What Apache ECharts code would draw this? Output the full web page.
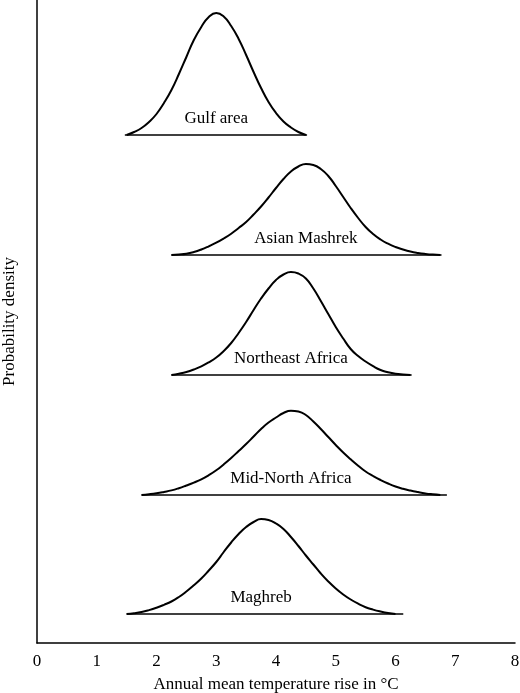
<!DOCTYPE html>
<html>
<head>
<meta charset="utf-8">
<script src="https://cdn.jsdelivr.net/npm/echarts@6/dist/echarts.min.js"></script>
<style>
  html, body { margin: 0; padding: 0; background: #fff; }
  #chart { width: 520px; height: 693px; }
</style>
</head>
<body>
<div id="chart"></div>
<script>
// x tick labels
var xTicks = [0, 1, 2, 3, 4, 5, 6, 7, 8];

// region names, top to bottom
var regions = ['Gulf area', 'Asian Mashrek', 'Northeast Africa', 'Mid-North Africa', 'Maghreb'];

// vertical offset of each curve's base line (plot units)
var baseLevel = [508, 388, 268, 148, 29];
// extent of each base line along x
var baseStart = [1.47, 2.25, 2.25, 1.75, 1.50];
var baseEnd   = [4.52, 6.77, 6.27, 6.86, 6.13];

// curve samples (every 0.125 degC): height above the base line
var gulfX = [1.5, 1.625, 1.75, 1.875, 2.0, 2.125, 2.25, 2.375, 2.5, 2.625, 2.75, 2.875, 3.0,
             3.125, 3.25, 3.375, 3.5, 3.625, 3.75, 3.875, 4.0, 4.125, 4.25, 4.375, 4.5];
var gulfY = [0, 3, 7, 13, 21, 32, 45, 61, 78, 95, 108, 118, 122,
             118.5, 109, 96, 80, 63, 47, 33, 22, 13.5, 7.5, 3, 0];

var mashrekX = [2.25, 2.375, 2.5, 2.625, 2.75, 2.875, 3.0, 3.125, 3.25, 3.375, 3.5, 3.625, 3.75,
                3.875, 4.0, 4.125, 4.25, 4.375, 4.5, 4.625, 4.75, 4.875, 5.0, 5.125, 5.25,
                5.375, 5.5, 5.625, 5.75, 5.875, 6.0, 6.125, 6.25, 6.375, 6.5, 6.625, 6.75];
var mashrekY = [0, 0.5, 1.3, 3, 5.5, 8.7, 12.3, 16.5, 21.3, 27, 33, 40.5, 48.5,
                57.5, 67, 76, 83.5, 88.5, 91, 90, 86, 79, 69, 58, 47,
                37, 28, 21, 15.5, 11.3, 8, 5.5, 3.5, 2.1, 1.1, 0.4, 0];

var neAfricaX = [2.25, 2.375, 2.5, 2.625, 2.75, 2.875, 3.0, 3.125, 3.25, 3.375, 3.5, 3.625, 3.75,
                 3.875, 4.0, 4.125, 4.25, 4.375, 4.5, 4.625, 4.75, 4.875, 5.0, 5.125, 5.25,
                 5.375, 5.5, 5.625, 5.75, 5.875, 6.0, 6.125, 6.25];
var neAfricaY = [0, 1.3, 3, 5.5, 8.7, 12.7, 17.5, 24, 32, 42, 53, 65, 76.5,
                 86.5, 95, 100.5, 103, 101.5, 96.5, 86.5, 74, 61, 48, 36.5, 26,
                 19, 13.5, 8.8, 5, 2.8, 1.3, 0.5, 0];

var midNorthX = [1.75, 1.875, 2.0, 2.125, 2.25, 2.375, 2.5, 2.625, 2.75, 2.875, 3.0, 3.125, 3.25,
                 3.375, 3.5, 3.625, 3.75, 3.875, 4.0, 4.125, 4.25, 4.375, 4.5, 4.625, 4.75,
                 4.875, 5.0, 5.125, 5.25, 5.375, 5.5, 5.625, 5.75, 5.875, 6.0, 6.125, 6.25,
                 6.375, 6.5, 6.625, 6.75];
var midNorthY = [0, 0.8, 1.8, 3.1, 4.6, 6.8, 9.5, 12.4, 15.7, 19.8, 24.7, 30.6, 37,
                 44, 51, 58.5, 66, 72.5, 77.5, 82, 84.3, 83.5, 80, 73.5, 66,
                 58, 50, 42.5, 35.7, 29.3, 23.5, 19, 15, 11.5, 8.5, 6.2, 4.4,
                 2.9, 1.6, 0.7, 0];

var maghrebX = [1.5, 1.625, 1.75, 1.875, 2.0, 2.125, 2.25, 2.375, 2.5, 2.625, 2.75, 2.875, 3.0,
                3.125, 3.25, 3.375, 3.5, 3.625, 3.75, 3.875, 4.0, 4.125, 4.25, 4.375, 4.5,
                4.625, 4.75, 4.875, 5.0, 5.125, 5.25, 5.375, 5.5, 5.625, 5.75, 5.875, 6.0];
var maghrebY = [0, 0.8, 2, 3.9, 6.3, 9.2, 12.5, 17, 22.5, 28.7, 35.5, 43.5, 52,
                62, 71.5, 80, 87, 92, 95, 94, 90.5, 85, 77, 68, 58.5,
                49.5, 40.5, 32.5, 25.5, 19.5, 14.5, 10.3, 6.8, 4.4, 2.5, 1, 0];

// where each region's name sits along x
var labelX = [3.0, 4.5, 4.25, 4.25, 3.75];

var curveX = [gulfX, mashrekX, neAfricaX, midNorthX, maghrebX];
var curveY = [gulfY, mashrekY, neAfricaY, midNorthY, maghrebY];

var font = 'Liberation Serif, Times New Roman, serif';

var series = [];
regions.forEach(function (name, i) {
    var xs = curveX[i];
    var ys = curveY[i];
    var pts = xs.map(function (x, k) { return [x, baseLevel[i] + ys[k]]; });
    series.push({
        name: name,
        type: 'line',
        data: pts,
        smooth: 0.5,
        showSymbol: false,
        symbol: 'none',
        lineStyle: { color: '#000', width: 2 },
        silent: true
    });
    series.push({
        name: name + ' base',
        type: 'line',
        data: [[baseStart[i], baseLevel[i]], [baseEnd[i], baseLevel[i]]],
        symbol: 'none',
        lineStyle: { color: '#000', width: 1.5 },
        silent: true
    });
    series.push({
        name: name + ' label',
        type: 'scatter',
        data: [[labelX[i], baseLevel[i]]],
        symbolSize: 1,
        itemStyle: { color: 'rgba(0,0,0,0)' },
        label: {
            show: true,
            position: 'inside',
            offset: [0, -16],
            formatter: name,
            color: '#000',
            opacity: 1,
            textBorderWidth: 0,
            fontFamily: font,
            fontSize: 17
        },
        silent: true
    });
});

var chart = echarts.init(document.getElementById('chart'));
chart.setOption({
    animation: false,
    backgroundColor: '#fff',
    grid: { left: 37, right: 5, top: 0, bottom: 50, containLabel: false, outerBoundsMode: 'none' },
    xAxis: {
        type: 'value',
        min: 0,
        max: 8,
        interval: 1,
        name: 'Annual mean temperature rise in °C',
        nameLocation: 'middle',
        nameGap: 33,
        nameTextStyle: { color: '#000', fontFamily: font, fontSize: 17 },
        axisLine: { show: true, lineStyle: { color: '#000', width: 1.5 } },
        axisTick: { show: false },
        splitLine: { show: false },
        axisLabel: {
            color: '#000', fontFamily: font, fontSize: 17, margin: 10,
            formatter: function (v) { return xTicks.indexOf(v) >= 0 ? String(v) : ''; }
        }
    },
    yAxis: {
        type: 'value',
        min: 0,
        max: 643,
        name: 'Probability density',
        nameLocation: 'middle',
        nameGap: 19,
        nameTextStyle: { color: '#000', fontFamily: font, fontSize: 17 },
        axisLine: { show: true, lineStyle: { color: '#000', width: 1.5 } },
        axisTick: { show: false },
        axisLabel: { show: false },
        splitLine: { show: false }
    },
    series: series
});
</script>
</body>
</html>
